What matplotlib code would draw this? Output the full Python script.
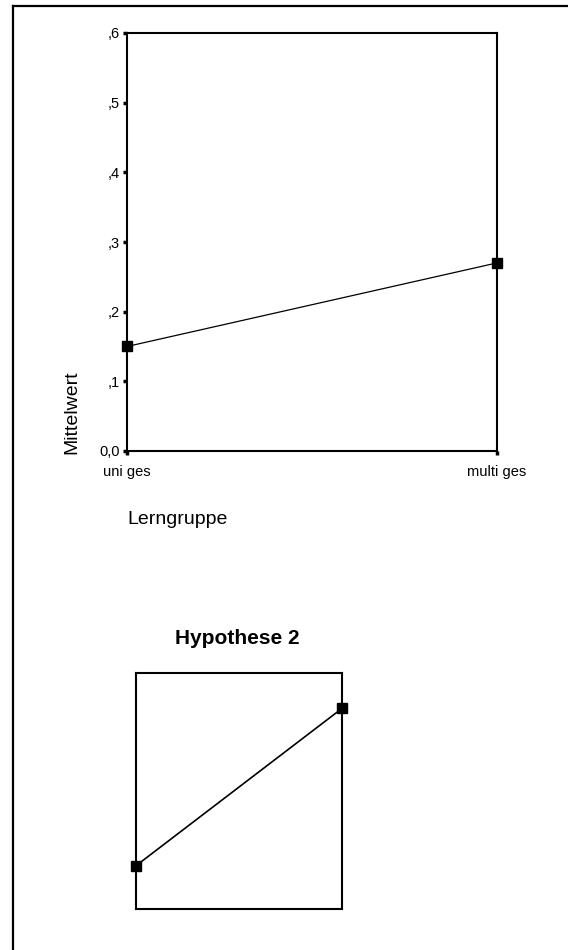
import matplotlib.pyplot as plt
from matplotlib.lines import Line2D

plt.rcParams['font.family'] = ['Liberation Sans', 'DejaVu Sans']

# Lerngruppe means (upper plot)
gruppen = ["uni ges", "multi ges"]
mittelwert = [0.15, 0.27]
y_ticks = [0.0, 0.1, 0.2, 0.3, 0.4, 0.5, 0.6]
y_tick_labels = ["0,0", ",1", ",2", ",3", ",4", ",5", ",6"]

# Hypothese 2 (lower plot, no scale shown)
h2_werte = [0.15, 0.35]

W, H = 568, 950
fig = plt.figure(figsize=(W / 100, H / 100), dpi=100)


def px_box(left, top, right, bottom):
    return [left / W, 1 - bottom / H, (right - left) / W, (bottom - top) / H]


# page frame, left and top edges
fig.add_artist(Line2D([13 / W, 13 / W], [0, 1 - 6 / H], color='black', lw=1.6,
                      transform=fig.transFigure))
fig.add_artist(Line2D([13 / W, 1], [1 - 6 / H, 1 - 6 / H], color='black', lw=1.6,
                      transform=fig.transFigure))

# upper plot
ax1 = fig.add_axes(px_box(127, 33, 497, 451))
ax1.plot(range(len(gruppen)), mittelwert, color='black', lw=0.9,
         marker='s', markersize=6.5, clip_on=False, zorder=5)
ax1.set_xlim(0, 1)
ax1.set_ylim(0, 0.6)
ax1.set_yticks(y_ticks)
ax1.set_yticklabels(y_tick_labels, fontsize=10.5)
ax1.set_xticks(range(len(gruppen)))
ax1.set_xticklabels(gruppen, fontsize=10.5)
ax1.tick_params(axis='both', length=3, width=2.5, direction='out')
ax1.tick_params(axis='y', pad=2)
ax1.tick_params(axis='x', pad=7)
for lbl in ax1.get_yticklabels():
    lbl.set_verticalalignment('center_baseline')
for s in ax1.spines.values():
    s.set_linewidth(1.5)
fig.text(72 / W, 1 - 412 / H, "Mittelwert", rotation=90, fontsize=14,
         ha='center', va='center')
fig.text(127 / W, 1 - 519 / H, "Lerngruppe", fontsize=14, ha='left', va='center')

# lower plot
ax2 = fig.add_axes(px_box(136, 673, 342, 909))
ax2.plot(range(len(h2_werte)), h2_werte, color='black', lw=1.2,
         marker='s', markersize=6.5, clip_on=False, zorder=5)
ax2.set_xlim(0, 1)
ax2.set_ylim(0.095, 0.395)
ax2.set_xticks([])
ax2.set_yticks([])
for s in ax2.spines.values():
    s.set_linewidth(1.5)
fig.text(237 / W, 1 - 639 / H, "Hypothese 2", fontsize=15, fontweight='bold',
         ha='center', va='center')

fig.savefig("out.png", dpi=100)
